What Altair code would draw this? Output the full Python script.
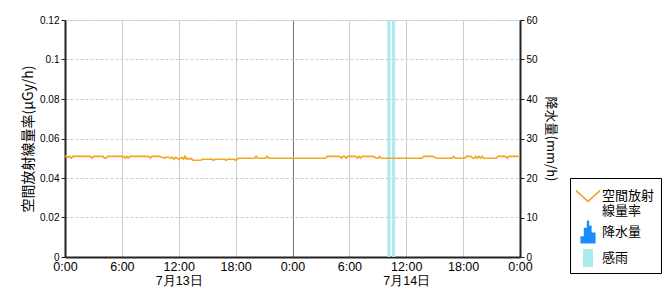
import altair as alt
import pandas as pd

# ---- data ----
start = "2024-07-13T00:00:00Z"
end = "2024-07-15T00:00:00Z"

# 空間放射線量率 (μGy/h), 10-minute values, 12 per row = 2 hours
dose_rows = [
    [.051, .051, .0505, .051, .050, .051, .051, .051, .051, .051, .051, .051],
    [.051, .051, .051, .051, .051, .050, .051, .051, .051, .051, .051, .051],
    [.051, .050, .050, .051, .051, .051, .051, .051, .051, .051, .051, .051],
    [.051, .051, .050, .051, .050, .051, .051, .051, .051, .051, .051, .051],
    [.051, .051, .051, .051, .051, .051, .050, .051, .051, .051, .051, .051],
    [.051, .0505, .0505, .050, .0505, .0505, .0505, .050, .0505, .0495, .0505, .050],
    [.0495, .050, .0505, .0495, .051, .0495, .050, .0495, .050, .049, .049, .049],
    [.049, .049, .049, .0495, .0495, .0495, .0495, .0495, .0495, .0495, .049, .0495],
    [.0495, .0495, .0495, .0495, .0495, .0495, .049, .0495, .0495, .0495, .0495, .0495],
    [.049, .0495, .050, .050, .050, .050, .050, .050, .050, .050, .050, .050],
    [.050, .051, .050, .050, .050, .050, .050, .050, .051, .050, .050, .050],
    [.050, .050, .050, .050, .050, .050, .050, .050, .050, .050, .050, .050],
    [.050, .050, .050, .050, .050, .050, .050, .050, .050, .050, .050, .050],
    [.050, .050, .050, .050, .050, .050, .050, .050, .050, .050, .051, .051],
    [.051, .051, .051, .051, .051, .051, .051, .050, .051, .051, .050, .051],
    [.051, .051, .051, .051, .051, .050, .051, .050, .051, .051, .051, .051],
    [.051, .051, .051, .051, .0505, .050, .050, .051, .050, .050, .050, .050],
    [.050, .050, .050, .050, .050, .050, .050, .050, .050, .050, .050, .050],
    [.050, .050, .050, .050, .050, .050, .050, .050, .050, .050, .050, .051],
    [.051, .051, .051, .051, .051, .051, .0505, .050, .050, .050, .050, .050],
    [.050, .050, .050, .050, .050, .050, .051, .050, .050, .050, .050, .050],
    [.050, .050, .051, .051, .051, .051, .050, .050, .051, .050, .051, .050],
    [.051, .050, .050, .050, .050, .050, .050, .050, .050, .050, .051, .051],
    [.051, .051, .051, .051, .050, .051, .051, .051, .051, .051, .051, .051],
]
dose_last = [.051]

# 降水量 (mm/h), hourly
precip = [0.0] * 48

# 感雨 intervals
rain_start = ["2024-07-14T10:00:00Z", "2024-07-14T10:30:00Z"]
rain_end = ["2024-07-14T10:20:00Z", "2024-07-14T10:50:00Z"]

series = ["空間放射線量率", "降水量", "感雨"]
series_colors = ["#f4a521", "#1a8cff", "#aee9ee"]

# ---- tables ----
dose = [v for row in dose_rows for v in row] + dose_last
t10 = pd.date_range(start, periods=len(dose), freq="10min")
df_dose = pd.DataFrame({"t": t10.strftime("%Y-%m-%dT%H:%M:%SZ"), "v": dose})
t60 = pd.date_range(start, periods=len(precip), freq="60min")
df_pr = pd.DataFrame({"t": t60.strftime("%Y-%m-%dT%H:%M:%SZ"),
                      "t2": (t60 + pd.Timedelta("60min")).strftime("%Y-%m-%dT%H:%M:%SZ"),
                      "p": precip})
df_rain = pd.DataFrame({"s": rain_start, "e": rain_end})
df_leg = pd.DataFrame({"series": series})

ms = lambda s: int(pd.Timestamp(s).timestamp() * 1000)
x_dom = [ms(start), ms(end)]
x_ticks = [ms(t) for t in pd.date_range(start, end, freq="6h")]

FONT = "Noto Sans CJK JP"

xscale = alt.Scale(type="utc", domain=x_dom, nice=False)
xaxis = alt.Axis(
    values=x_ticks, title=None, ticks=False, labelPadding=3,
    labelExpr="utchours(datum.value) == 12 ? [utcFormat(datum.value, '%-H:%M'), utcFormat(datum.value, '%-m月%-d日')] : utcFormat(datum.value, '%-H:%M')",
    labelOverlap=False, labelFlush=False, labelFontSize=12.5,
    grid=True,
    gridColor=alt.condition("utchours(datum.value) == 0", alt.value("#777777"), alt.value("#cccccc")),
    domainColor="#222222", domainWidth=2,
)

rain = alt.Chart(df_rain).mark_rect(color="#aee9ee").encode(
    x=alt.X("s:T", scale=xscale, axis=xaxis),
    x2="e:T",
)

line = alt.Chart(df_dose).mark_line(color="#f4a521", strokeWidth=1.7).encode(
    x=alt.X("t:T", scale=xscale, axis=xaxis),
    y=alt.Y("v:Q", scale=alt.Scale(domain=[0, 0.12], nice=False, padding=0),
            axis=alt.Axis(title="空間放射線量率(μGy/h)", values=[0, .02, .04, .06, .08, .1, .12],
                          labelExpr="format(datum.value, '~g')",
                          grid=True, gridDash=[3, 2], gridColor="#cccccc",
                          tickSize=4, tickColor="#222222", labelPadding=2,
                          titleFontSize=14, titleFontWeight="normal", titleFont=FONT,
                          domainColor="#222222", domainWidth=2, titlePadding=4)),
)

bars = alt.Chart(df_pr).mark_rect(color="#1a8cff").encode(
    x=alt.X("t:T", scale=xscale, axis=xaxis),
    x2="t2:T",
    y=alt.Y("p:Q", scale=alt.Scale(domain=[0, 60], nice=False, padding=0, zero=True),
            axis=alt.Axis(title="降水量(mm/h)", orient="right", values=[0, 10, 20, 30, 40, 50, 60],
                          grid=False, tickSize=4, tickColor="#222222", labelPadding=2,
                          titleFontSize=13, titleFontWeight="normal", titleFont=FONT,
                          domainColor="#222222", domainWidth=2, titleAngle=90, titlePadding=6)),
    y2=alt.datum(0),
)

v_path = "M -1 -0.55 L 0 0.35 L 1 -0.55 L 1 -0.35 L 0 0.55 L -1 -0.35 Z"
bar_path = ("M -0.1 -0.95 L 0.1 -0.95 L 0.1 -0.55 L 0.3 -0.55 L 0.3 0.05 L 0.63 0.05 "
            "L 0.63 0.95 L -0.63 0.95 L -0.63 0.35 L -0.35 0.35 L -0.35 -0.35 L -0.1 -0.35 Z")
rect_path = "M -0.42 -0.75 L 0.42 -0.75 L 0.42 0.75 L -0.42 0.75 Z"

legend = alt.Legend(
    title=None, orient="none", legendX=505, legendY=158,
    strokeColor="#000000", fillColor="#ffffff", padding=6,
    symbolSize=576, symbolStrokeWidth=0, symbolOpacity=1,
    labelFont=FONT, labelFontSize=13, labelColor="#000000", labelOffset=2,
    rowPadding=2, labelLimit=200,
    labelExpr="datum.label == '空間放射線量率' ? ['空間放射', '線量率'] : datum.label",
)
leg = alt.Chart(df_leg).mark_point(filled=True, opacity=0).encode(
    color=alt.Color("series:N", scale=alt.Scale(domain=series, range=series_colors), legend=legend),
    shape=alt.Shape("series:N", scale=alt.Scale(domain=series, range=[v_path, bar_path, rect_path]), legend=legend),
)

chart = alt.layer(rain, bars, line, leg).resolve_scale(
    y="independent"
).properties(
    width=455, height=237,
    padding={"left": 65, "top": 20, "right": 150, "bottom": 43},
    autosize=alt.AutoSizeParams(type="none"),
).configure_view(
    stroke="#888888", strokeWidth=1
).configure_axis(
    labelFont=FONT, labelFontSize=12, labelColor="#000000",
    titleFont=FONT, titleFontSize=13, titleColor="#000000", titleFontWeight="normal",
).configure(background="#ffffff")

chart.save("out.html", embed_options={"renderer": "svg", "actions": False})
